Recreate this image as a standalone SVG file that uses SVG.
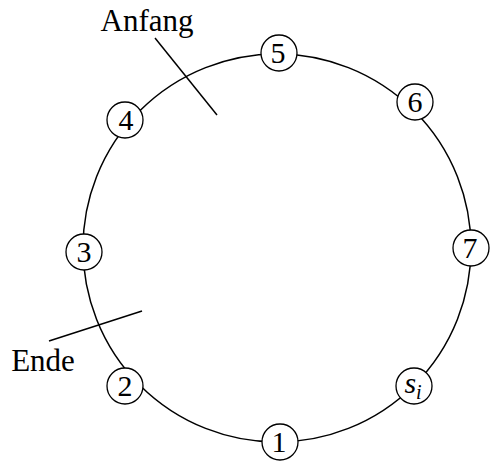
<svg xmlns="http://www.w3.org/2000/svg" width="490" height="466" viewBox="0 0 490 466">
<style>
.ring{fill:none;stroke:#000;stroke-width:1.5}
.ln{stroke:#000;stroke-width:1.5;fill:none}
.nd{fill:#fff;stroke:#000;stroke-width:1.3}
.t{font-family:"Liberation Serif","DejaVu Serif",serif;font-size:30px;fill:#000;text-anchor:middle}
.lb{font-family:"Liberation Serif","DejaVu Serif",serif;font-size:31px;fill:#000;text-anchor:middle}
</style>
<rect width="490" height="466" fill="#fff"/>
<g id="connectors">
<circle class="ring" cx="277" cy="248" r="194"/>
<line class="ln" x1="155" y1="38" x2="217" y2="115"/>
<line class="ln" x1="49" y1="341" x2="142" y2="311"/>
</g>
<g id="label-anfang"><text class="lb" x="147" y="31">Anfang</text></g>
<g id="label-ende"><text class="lb" x="43" y="371">Ende</text></g>
<g id="node5"><circle class="nd" cx="279" cy="53" r="18"/><text class="t" x="278" y="63">5</text></g>
<g id="node6"><circle class="nd" cx="415" cy="102" r="18"/><text class="t" x="415" y="112">6</text></g>
<g id="node7"><circle class="nd" cx="471" cy="248" r="18"/><text class="t" x="470" y="258">7</text></g>
<g id="nodesi"><circle class="nd" cx="414" cy="386" r="18"/><text class="t" x="413" y="393"><tspan font-style="italic">s</tspan><tspan font-style="italic" font-size="20" dy="6">i</tspan></text></g>
<g id="node1"><circle class="nd" cx="280" cy="442" r="18"/><text class="t" x="279" y="452">1</text></g>
<g id="node2"><circle class="nd" cx="125" cy="386" r="18"/><text class="t" x="125" y="396">2</text></g>
<g id="node3"><circle class="nd" cx="84" cy="252" r="18"/><text class="t" x="84" y="262">3</text></g>
<g id="node4"><circle class="nd" cx="125" cy="120" r="18"/><text class="t" x="126" y="130">4</text></g>
</svg>
